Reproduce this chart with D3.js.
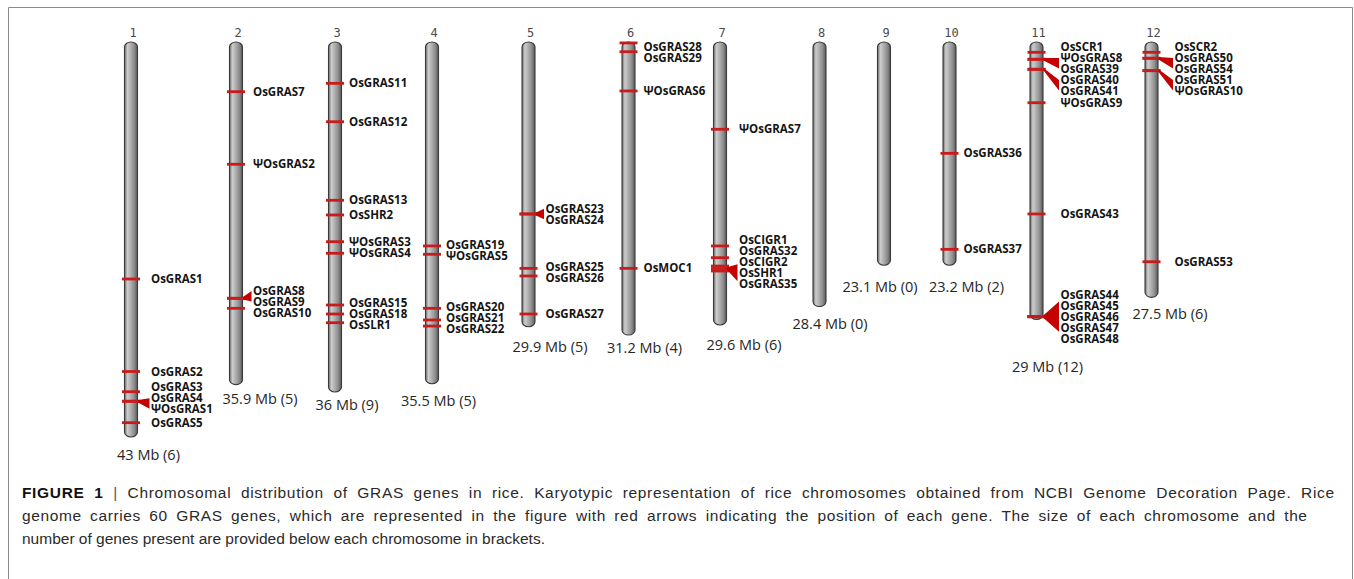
<!DOCTYPE html>
<html><head><meta charset="utf-8">
<script src="https://cdn.jsdelivr.net/npm/d3@7"></script>
<style>html,body{margin:0;padding:0;background:#fff;} svg{display:block}</style>
</head><body>
<svg id="chart" width="1354" height="579"></svg>
<script>
// ---------------- data ----------------
const chromosomes = ["1","2","3","4","5","6","7","8","9","10","11","12"];
const sizeMb      = [43, 35.9, 36, 35.5, 29.9, 31.2, 29.6, 28.4, 23.1, 23.2, 29, 27.5];
const geneCount   = [6, 5, 9, 5, 5, 4, 6, 0, 0, 2, 12, 6];
// length of each chromosome bar as drawn, in Mb units of the common scale
const drawnLengthMb = [43.0, 37.3, 38.1, 37.2, 31.0, 31.9, 30.8, 28.8, 24.3, 24.3, 30.2, 27.8];

const geneChromosome = [
  "1","1","1","1","1","1",
  "2","2","2","2","2",
  "3","3","3","3","3","3","3","3","3",
  "4","4","4","4","4",
  "5","5","5","5","5",
  "6","6","6","6",
  "7","7","7","7","7","7",
  "10","10",
  "11","11","11","11","11","11","11","11","11","11","11","11",
  "12","12","12","12","12","12"
];
const geneName = [
  "OsGRAS1","OsGRAS2","OsGRAS3","OsGRAS4","ΨOsGRAS1","OsGRAS5",
  "OsGRAS7","ΨOsGRAS2","OsGRAS8","OsGRAS9","OsGRAS10",
  "OsGRAS11","OsGRAS12","OsGRAS13","OsSHR2","ΨOsGRAS3","ΨOsGRAS4","OsGRAS15","OsGRAS18","OsSLR1",
  "OsGRAS19","ΨOsGRAS5","OsGRAS20","OsGRAS21","OsGRAS22",
  "OsGRAS23","OsGRAS24","OsGRAS25","OsGRAS26","OsGRAS27",
  "OsGRAS28","OsGRAS29","ΨOsGRAS6","OsMOC1",
  "ΨOsGRAS7","OsCIGR1","OsGRAS32","OsCIGR2","OsSHR1","OsGRAS35",
  "OsGRAS36","OsGRAS37",
  "OsSCR1","ΨOsGRAS8","OsGRAS39","OsGRAS40","OsGRAS41","ΨOsGRAS9","OsGRAS43","OsGRAS44","OsGRAS45","OsGRAS46","OsGRAS47","OsGRAS48",
  "OsSCR2","OsGRAS50","OsGRAS54","OsGRAS51","ΨOsGRAS10","OsGRAS53"
];
const genePositionMb = [
  25.8, 35.87, 38.07, 39.11, 39.11, 41.44,
  5.41, 13.31, 27.9, 27.9, 28.99,
  4.5, 8.68, 17.23, 18.83, 21.74, 23.0, 28.63, 29.61, 30.56,
  22.2, 23.11, 28.99, 30.26, 30.92,
  18.72, 18.72, 24.64, 25.47, 29.61,
  0.1, 1.06, 5.33, 24.64,
  9.5, 22.2, 23.48, 24.39, 24.66, 24.93,
  12.12, 22.57,
  1.12, 1.88, 1.88, 2.97, 2.97, 6.61, 18.72, 29.9, 29.9, 29.9, 29.9, 29.9,
  1.12, 1.77, 1.77, 3.12, 3.12, 23.92
];

const captionBold = "FIGURE 1";
const captionLines = [
  "Chromosomal distribution of GRAS genes in rice. Karyotypic representation of rice chromosomes obtained from NCBI Genome Decoration Page. Rice",
  "genome carries 60 GRAS genes, which are represented in the figure with red arrows indicating the position of each gene. The size of each chromosome and the",
  "number of genes present are provided below each chromosome in brackets."
];

// ---------------- layout ----------------
const svg = d3.select("#chart");
const W = 1354, H = 579;

const x = d3.scaleOrdinal().domain(chromosomes)
  .range([131, 236, 335, 432, 528.5, 628.5, 720, 819.5, 884, 949.5, 1036.5, 1151.5]);
const labelDx = d3.scaleOrdinal().domain(chromosomes)
  .range([20, 17, 14, 14, 17, 15, 19, 17, 17, 14, 24, 23]);
const sizeDx = d3.scaleOrdinal().domain(chromosomes)
  .range([17.5, 24, 12, 6.5, 21.5, 16, 24, 10.5, -4, 17, 11, 18.5]);
const sizeDy = d3.scaleOrdinal().domain(chromosomes)
  .range([18, 14, 13, 17.7, 20, 13, 20, 17, 22, 22, 48, 17]);
const y = d3.scaleLinear().domain([0, 43]).range([42, 437]);

const chromW = 13;
const markerHalf = 9;
const labelSpacing = 10.9;
const red = "#c81c1c";

// frame
svg.append("path")
  .attr("d", `M8.5,${H+2} V7.5 H1352.5 V${H+2}`)
  .attr("fill", "none").attr("stroke", "#8a8a8a").attr("stroke-width", 1);

// gradient
const defs = svg.append("defs");
const grad = defs.append("linearGradient").attr("id", "chromGrad")
  .attr("x1", "0%").attr("x2", "100%").attr("y1", "0%").attr("y2", "0%");
[["0%", "#6a6a6a"], ["22%", "#cdcdcd"], ["45%", "#b2b2b2"], ["75%", "#8c8c8c"], ["100%", "#585858"]]
  .forEach(([o, c]) => grad.append("stop").attr("offset", o).attr("stop-color", c));

const chromData = chromosomes.map((c, i) => ({
  id: c, size: sizeMb[i], count: geneCount[i], len: drawnLengthMb[i]
}));

const genes = geneName.map((n, i) => ({ name: n, chrom: geneChromosome[i], pos: genePositionMb[i] }));

// chromosome bars
const g = svg.append("g");
g.selectAll("rect.chrom").data(chromData).join("rect")
  .attr("class", "chrom")
  .attr("x", d => x(d.id) - chromW / 2)
  .attr("y", y(0))
  .attr("width", chromW)
  .attr("height", d => y(d.len) - y(0))
  .attr("rx", chromW / 2).attr("ry", 5)
  .attr("fill", "url(#chromGrad)")
  .attr("stroke", "#3a3a3a").attr("stroke-width", 1.1);

// chromosome numbers
g.selectAll("text.num").data(chromData).join("text")
  .attr("class", "num")
  .attr("x", d => x(d.id) + 2)
  .attr("y", y(0) - 5)
  .attr("text-anchor", "middle")
  .attr("font-family", "DejaVu Sans Mono, monospace")
  .attr("font-size", 12)
  .attr("fill", "#4a4a4a")
  .text(d => d.id);

// size labels
g.selectAll("text.size").data(chromData).join("text")
  .attr("class", "size")
  .attr("x", d => x(d.id) + sizeDx(d.id))
  .attr("y", d => y(d.len) + sizeDy(d.id) + 5)
  .attr("text-anchor", "middle")
  .attr("font-family", "Open Sans, sans-serif")
  .attr("font-size", 14.5)
  .attr("fill", "#262626")
  .text(d => `${d.size} Mb (${d.count})`);

// markers
g.selectAll("line.marker").data(genes).join("line")
  .attr("class", "marker")
  .attr("x1", d => x(d.chrom) - markerHalf)
  .attr("x2", d => x(d.chrom) + markerHalf)
  .attr("y1", d => y(d.pos)).attr("y2", d => y(d.pos))
  .attr("stroke", red).attr("stroke-width", 2.8);

// group genes and place labels
const labelItems = [];
const wedges = [];
chromosomes.forEach(c => {
  const gs = genes.filter(d => d.chrom === c).sort((a, b) => a.pos - b.pos);
  if (!gs.length) return;
  const groups = [];
  gs.forEach(d => {
    const last = groups[groups.length - 1];
    if (last && d.pos - last[last.length - 1].pos <= 0.3) last.push(d);
    else groups.push([d]);
  });
  const items = [];
  groups.forEach(grp => {
    const ly = d3.mean(grp, d => y(d.pos));
    grp.forEach((d, j) => items.push({ gene: d, ideal: ly + (j - (grp.length - 1) / 2) * labelSpacing, group: grp, locusY: ly }));
  });
  const minY = y(0) + 5;
  let clusters = items.map(it => ({ items: [it], start: it.ideal }));
  let changed = true;
  const fix = cl => { cl.start = d3.mean(cl.items, (it, k) => it.ideal - k * labelSpacing); };
  while (changed) {
    changed = false;
    clusters.forEach(fix);
    clusters.forEach(cl => { if (cl.start < minY) cl.start = minY; });
    for (let i = 1; i < clusters.length; i++) {
      const p = clusters[i - 1], q = clusters[i];
      if (p.start + p.items.length * labelSpacing > q.start + 0.01) {
        p.items = p.items.concat(q.items);
        clusters.splice(i, 1);
        changed = true;
        break;
      }
    }
  }
  clusters.forEach(cl => cl.items.forEach((it, k) => { it.y = cl.start + k * labelSpacing; }));
  const lx = x(c) + labelDx(c);
  items.forEach(it => { it.x = lx; labelItems.push(it); });
  groups.filter(grp => grp.length > 1).forEach(grp => {
    const its = items.filter(it => it.group === grp);
    const ys = its.map(it => it.y);
    const mid = d3.mean(ys);
    const half = 0.3 * (d3.max(ys) - d3.min(ys)) + 2;
    wedges.push({ ax: x(c) + markerHalf - 2, ay: its[0].locusY, bx: lx - 1.5, y0: mid - half, y1: mid + half });
  });
});

g.selectAll("path.wedge").data(wedges).join("path")
  .attr("class", "wedge")
  .attr("d", d => `M${d.ax},${d.ay - 1.3} L${d.bx},${d.y0} L${d.bx},${d.y1} L${d.ax},${d.ay + 1.3} Z`)
  .attr("fill", "#c40000");

g.selectAll("text.gene").data(labelItems).join("text")
  .attr("class", "gene")
  .attr("x", d => d.x)
  .attr("y", d => d.y)
  .attr("dy", "0.36em")
  .attr("font-family", "Open Sans, sans-serif")
  .attr("font-weight", 700)
  .attr("font-size", 11.5)
  .attr("fill", "#141414")
  .text(d => d.gene.name);

// caption
const cap = svg.append("g").attr("font-family", "Liberation Sans, Arial, sans-serif")
  .attr("font-size", 15.5).attr("fill", "#2a2a2a");
const capX = 22;
const capBase = [498, 521, 544];
const capRight = [1334, 1307, null];
captionLines.forEach((line, i) => {
  const t = cap.append("text").attr("x", capX).attr("y", capBase[i]);
  if (i === 0) {
    t.append("tspan").attr("font-weight", 700).attr("fill", "#111").text(captionBold);
    t.append("tspan").attr("fill", "#555").text(" | ");
  }
  t.append("tspan").text(line);
  if (capRight[i]) {
    const nat = t.node().getComputedTextLength();
    const txt = t.text();
    const nChars = txt.length;
    const nSpaces = (txt.match(/ /g) || []).length;
    const extra = capRight[i] - capX - nat;
    const ls = extra * 0.5 / (nChars - 1);
    t.attr("letter-spacing", ls);
    t.attr("word-spacing", extra * 0.5 / nSpaces);
  }
});
</script>
</body></html>
